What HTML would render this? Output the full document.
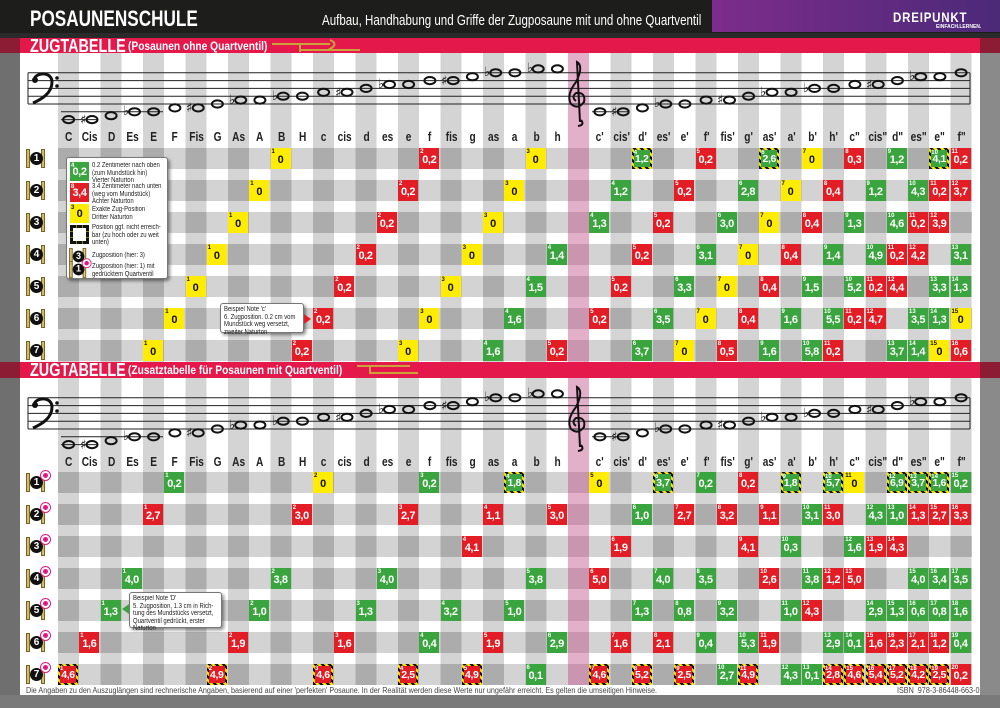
<!DOCTYPE html>
<html><head><meta charset="utf-8">
<style>
*{margin:0;padding:0;box-sizing:border-box}
body{width:1000px;height:708px;position:relative;overflow:hidden;background:#fff;font-family:"Liberation Sans",sans-serif}
.a{position:absolute}
.sx{display:inline-block;transform-origin:left top;white-space:nowrap}
.grid{position:absolute;left:58px;width:914px;background:repeating-linear-gradient(90deg,#d4d4d4 0 21.25px,#fff 21.25px 42.5px)}
.band{position:absolute;left:58px;width:914px;height:21px;background:repeating-linear-gradient(90deg,#acacac 0 21.25px,#d3d3d3 21.25px 42.5px)}
.pink{position:absolute;left:568px;width:21.25px;background:rgba(255,105,180,0.35)}
.c{position:absolute;width:20px;height:21px;color:#fff;font:bold 11px "Liberation Sans",sans-serif;letter-spacing:-0.4px;text-align:center;line-height:24px;white-space:nowrap}
.c i{position:absolute;left:1px;top:1px;font-size:6px;line-height:6px;font-style:normal;letter-spacing:0}
.g{background:#3aa53e}.r{background:#e31d25}.y{background:#ffec00;color:#111}
.h{background:repeating-linear-gradient(45deg,#111 0 2.5px,#ffe600 2.5px 5px)}
.h b{position:absolute;left:2px;top:2px;right:2px;bottom:2px;line-height:19px;font-weight:bold;font-size:10.5px}
.h i{left:0;top:0}
.nm{position:absolute;width:21.25px;text-align:center;font:bold 13px "Liberation Sans",sans-serif;color:#222;transform:scaleX(.78);white-space:nowrap}
.bar{position:absolute;left:20px;width:960px;height:16px;background:#e4184a;color:#fff;font-weight:bold}
.lbl{position:absolute;left:24px;width:26px;height:21px}
.lbl .p1,.lbl .p2{position:absolute;top:1px;width:4px;height:19px;background:linear-gradient(90deg,#a88a3a,#f5e3a0,#b8953f);border:1px solid #7a6220}
.lbl .p1{left:2px}.lbl .p2{left:17px}
.lbl .n{position:absolute;left:6px;top:4px;width:13px;height:13px;border-radius:50%;background:#111;color:#fff;font:bold 10px "Liberation Sans",sans-serif;text-align:center;line-height:13px}
.lbl .q{position:absolute;left:17px;top:-1px;width:9px;height:9px;border-radius:50%;background:#e4187f;border:2px solid #fff;box-shadow:0 0 0 1px #e4187f}
.box{position:absolute;background:#fff;border:1px solid #777;border-radius:3px;box-shadow:2px 2px 3px rgba(0,0,0,.45);font:7px "Liberation Sans",sans-serif;color:#222;line-height:8px}
.lt{position:absolute;left:25px;font-size:7px;line-height:7.5px;white-space:nowrap;transform:scaleX(.85);transform-origin:left top}
</style></head><body>
<div class="a" style="left:0;top:0;width:1000px;height:33px;background:#1d1d1b"></div>
<div class="a" style="left:712px;top:0;width:288px;height:32px;background:linear-gradient(90deg,#7d2c8c,#4b2a78)"></div>
<div class="a" style="left:0;top:33px;width:1000px;height:5px;background:#2a2a2a"></div>
<div class="a" style="left:0;top:38px;width:20px;height:670px;background:#6f6f6f"></div>
<div class="a" style="left:980px;top:38px;width:20px;height:670px;background:#8a8a8a"></div>
<div class="a" style="left:0;top:695px;width:1000px;height:13px;background:#7a7a7a"></div>
<div class="a" style="left:0;top:38px;width:20px;height:15px;background:#8c1c34"></div>
<div class="a" style="left:980px;top:38px;width:20px;height:15px;background:#8c1c34"></div>
<div class="a" style="left:0;top:362px;width:20px;height:16px;background:#8c1c34"></div>
<div class="a" style="left:980px;top:362px;width:20px;height:16px;background:#8c1c34"></div>

<div class="a" style="left:30px;top:6px;color:#fff;font:bold 22px 'Liberation Sans',sans-serif"><span class="sx" style="transform:scaleX(.78)">POSAUNENSCHULE</span></div>
<div class="a" style="left:322px;top:12px;color:#fff;font:15px 'Liberation Sans',sans-serif"><span class="sx" style="transform:scaleX(.77)">Aufbau, Handhabung und Griffe der Zugposaune mit und ohne Quartventil</span></div>
<div class="a" style="left:893px;top:9px;color:#fff;font:bold 14px 'Liberation Sans',sans-serif;letter-spacing:1px"><span class="sx" style="transform:scaleX(.82)">DREIPUNKT</span></div>
<div class="a" style="left:936px;top:24px;color:#fff;font:bold 5px 'Liberation Sans',sans-serif">EINFACH.LERNEN.</div>

<div class="bar" style="top:38px;height:15px"><span class="a" style="left:10px;top:-2px;font-size:18px"><span class="sx" style="transform:scaleX(.8)">ZUGTABELLE</span></span><span class="a" style="left:108px;top:1px;font-size:12px"><span class="sx" style="transform:scaleX(.85)">(Posaunen ohne Quartventil)</span></span></div>
<div class="grid" style="top:53px;height:309px"></div>
<div class="band" style="top:148px"></div><div class="band" style="top:180px"></div><div class="band" style="top:212px"></div><div class="band" style="top:244px"></div><div class="band" style="top:276px"></div><div class="band" style="top:308px"></div><div class="band" style="top:340px"></div>
<div class="pink" style="top:53px;height:309px"></div>

<div class="bar" style="top:362px"><span class="a" style="left:10px;top:-2px;font-size:18px"><span class="sx" style="transform:scaleX(.8)">ZUGTABELLE</span></span><span class="a" style="left:108px;top:1px;font-size:12px"><span class="sx" style="transform:scaleX(.85)">(Zusatztabelle für Posaunen mit Quartventil)</span></span></div>
<div class="grid" style="top:378px;height:307px"></div>
<div class="band" style="top:472px"></div><div class="band" style="top:504px"></div><div class="band" style="top:536px"></div><div class="band" style="top:568px"></div><div class="band" style="top:600px"></div><div class="band" style="top:632px"></div><div class="band" style="top:664px"></div>
<div class="pink" style="top:378px;height:307px"></div>

<svg class="a" style="left:0;top:0" width="1000" height="708">
<g fill="none" stroke="#c9a23a" stroke-width="2">
<path d="M272 44 H330 M300 50 H360 M300 44 V52 M330 40 Q340 44 328 50"/>
<path d="M357 366 H410 M370 373 H418 M370 366 V374"/>
</g>
<g stroke="#222" stroke-width="1">
<path d="M28 72.8H970M28 80.6H970M28 88.4H970M28 96.2H970M28 104H970M28 72.8V104M970 72.8V104"/>
<path d="M28 397.8H970M28 405.6H970M28 413.4H970M28 421.2H970M28 429H970M28 397.8V429M970 397.8V429"/>
<path d="M61 111.8H163M61 119.6H97M592 111.8H629M61 436.8H163M61 444.6H97M592 436.8H629"/>
</g>
<g fill="none" stroke="#111" stroke-width="3">
<path d="M34 80 C35 72 52 71 52 82 C52 93 42 99 33 103"/>
<path d="M34 405 C35 397 52 396 52 407 C52 418 42 424 33 428"/>
<path stroke-width="2" d="M581 120 Q585 125 578 126 M580 122 L577 62 Q584 66 576 82 Q566 95 571 104 Q578 110 584 102 Q586 92 576 93 Q571 97 576 101"/>
<path stroke-width="2" d="M581 445 Q585 450 578 451 M580 447 L577 387 Q584 391 576 407 Q566 420 571 429 Q578 435 584 427 Q586 417 576 418 Q571 422 576 426"/>
</g>
<g fill="#111"><circle cx="35" cy="80" r="3"/><circle cx="57" cy="78" r="1.8"/><circle cx="57" cy="86" r="1.8"/><circle cx="35" cy="405" r="3"/><circle cx="57" cy="403" r="1.8"/><circle cx="57" cy="411" r="1.8"/></g>
<g fill="none" stroke="#111" stroke-width="2">
<g id="n1">
<ellipse cx="68.6" cy="119.6" rx="5.5" ry="3.6"/><ellipse cx="92" cy="119.6" rx="5.5" ry="3.6"/><ellipse cx="111.1" cy="115.7" rx="5.5" ry="3.6"/><ellipse cx="134.5" cy="111.8" rx="5.5" ry="3.6"/><ellipse cx="153.6" cy="111.8" rx="5.5" ry="3.6"/><ellipse cx="174.9" cy="107.9" rx="5.5" ry="3.6"/><ellipse cx="198.2" cy="107.9" rx="5.5" ry="3.6"/><ellipse cx="217.4" cy="104" rx="5.5" ry="3.6"/><ellipse cx="240.7" cy="100.1" rx="5.5" ry="3.6"/><ellipse cx="259.9" cy="100.1" rx="5.5" ry="3.6"/><ellipse cx="283.2" cy="96.2" rx="5.5" ry="3.6"/><ellipse cx="302.4" cy="96.2" rx="5.5" ry="3.6"/><ellipse cx="323.6" cy="92.3" rx="5.5" ry="3.6"/><ellipse cx="347" cy="92.3" rx="5.5" ry="3.6"/><ellipse cx="366.1" cy="88.4" rx="5.5" ry="3.6"/><ellipse cx="389.5" cy="84.5" rx="5.5" ry="3.6"/><ellipse cx="408.6" cy="84.5" rx="5.5" ry="3.6"/><ellipse cx="429.9" cy="80.6" rx="5.5" ry="3.6"/><ellipse cx="453.2" cy="80.6" rx="5.5" ry="3.6"/><ellipse cx="472.4" cy="76.7" rx="5.5" ry="3.6"/><ellipse cx="495.7" cy="72.8" rx="5.5" ry="3.6"/><ellipse cx="514.9" cy="72.8" rx="5.5" ry="3.6"/><ellipse cx="538.2" cy="68.9" rx="5.5" ry="3.6"/><ellipse cx="557.4" cy="68.9" rx="5.5" ry="3.6"/>
<ellipse cx="599.9" cy="111.8" rx="5.5" ry="3.6"/><ellipse cx="623.2" cy="111.8" rx="5.5" ry="3.6"/><ellipse cx="642.4" cy="107.9" rx="5.5" ry="3.6"/><ellipse cx="665.7" cy="104" rx="5.5" ry="3.6"/><ellipse cx="684.9" cy="104" rx="5.5" ry="3.6"/><ellipse cx="706.1" cy="100.1" rx="5.5" ry="3.6"/><ellipse cx="729.5" cy="100.1" rx="5.5" ry="3.6"/><ellipse cx="748.6" cy="96.2" rx="5.5" ry="3.6"/><ellipse cx="772" cy="92.3" rx="5.5" ry="3.6"/><ellipse cx="791.1" cy="92.3" rx="5.5" ry="3.6"/><ellipse cx="814.5" cy="88.4" rx="5.5" ry="3.6"/><ellipse cx="833.6" cy="88.4" rx="5.5" ry="3.6"/><ellipse cx="854.9" cy="84.5" rx="5.5" ry="3.6"/><ellipse cx="878.2" cy="84.5" rx="5.5" ry="3.6"/><ellipse cx="897.4" cy="80.6" rx="5.5" ry="3.6"/><ellipse cx="920.7" cy="76.7" rx="5.5" ry="3.6"/><ellipse cx="939.9" cy="76.7" rx="5.5" ry="3.6"/><ellipse cx="961.1" cy="72.8" rx="5.5" ry="3.6"/>
</g>
<use href="#n1" transform="translate(0,325)"/>
</g>
<g font-family="DejaVu Sans,sans-serif" font-size="13" fill="#111">
<text x="80" y="124">♯</text><text x="123" y="115">♭</text><text x="186" y="112">♯</text><text x="229" y="104">♭</text><text x="272" y="100">♭</text><text x="335" y="97">♯</text><text x="378" y="88">♭</text><text x="441" y="85">♯</text><text x="484" y="76">♭</text><text x="527" y="72">♭</text>
<text x="611" y="116">♯</text><text x="654" y="107">♭</text><text x="717" y="104">♯</text><text x="760" y="96">♭</text><text x="803" y="92">♭</text><text x="866" y="89">♯</text><text x="909" y="80">♭</text>
<text x="80" y="449">♯</text><text x="123" y="440">♭</text><text x="186" y="437">♯</text><text x="229" y="429">♭</text><text x="272" y="425">♭</text><text x="335" y="422">♯</text><text x="378" y="413">♭</text><text x="441" y="410">♯</text><text x="484" y="401">♭</text><text x="527" y="397">♭</text>
<text x="611" y="441">♯</text><text x="654" y="432">♭</text><text x="717" y="429">♯</text><text x="760" y="421">♭</text><text x="803" y="417">♭</text><text x="866" y="414">♯</text><text x="909" y="405">♭</text>
</g>
</svg>

<div class="a" style="left:0;top:129px">
<div class="nm" style="left:58px">C</div><div class="nm" style="left:79.25px">Cis</div><div class="nm" style="left:100.5px">D</div><div class="nm" style="left:121.75px">Es</div><div class="nm" style="left:143px">E</div><div class="nm" style="left:164.25px">F</div><div class="nm" style="left:185.5px">Fis</div><div class="nm" style="left:206.75px">G</div><div class="nm" style="left:228px">As</div><div class="nm" style="left:249.25px">A</div><div class="nm" style="left:270.5px">B</div><div class="nm" style="left:291.75px">H</div><div class="nm" style="left:313px">c</div><div class="nm" style="left:334.25px">cis</div><div class="nm" style="left:355.5px">d</div><div class="nm" style="left:376.75px">es</div><div class="nm" style="left:398px">e</div><div class="nm" style="left:419.25px">f</div><div class="nm" style="left:440.5px">fis</div><div class="nm" style="left:461.75px">g</div><div class="nm" style="left:483px">as</div><div class="nm" style="left:504.25px">a</div><div class="nm" style="left:525.5px">b</div><div class="nm" style="left:546.75px">h</div>
<div class="nm" style="left:589.25px">c'</div><div class="nm" style="left:610.5px">cis'</div><div class="nm" style="left:631.75px">d'</div><div class="nm" style="left:653px">es'</div><div class="nm" style="left:674.25px">e'</div><div class="nm" style="left:695.5px">f'</div><div class="nm" style="left:716.75px">fis'</div><div class="nm" style="left:738px">g'</div><div class="nm" style="left:759.25px">as'</div><div class="nm" style="left:780.5px">a'</div><div class="nm" style="left:801.75px">b'</div><div class="nm" style="left:823px">h'</div><div class="nm" style="left:844.25px">c"</div><div class="nm" style="left:865.5px">cis"</div><div class="nm" style="left:886.75px">d"</div><div class="nm" style="left:908px">es"</div><div class="nm" style="left:929.25px">e"</div><div class="nm" style="left:950.5px">f"</div>
</div>
<div class="a" style="left:0;top:454px">
<div class="nm" style="left:58px">C</div><div class="nm" style="left:79.25px">Cis</div><div class="nm" style="left:100.5px">D</div><div class="nm" style="left:121.75px">Es</div><div class="nm" style="left:143px">E</div><div class="nm" style="left:164.25px">F</div><div class="nm" style="left:185.5px">Fis</div><div class="nm" style="left:206.75px">G</div><div class="nm" style="left:228px">As</div><div class="nm" style="left:249.25px">A</div><div class="nm" style="left:270.5px">B</div><div class="nm" style="left:291.75px">H</div><div class="nm" style="left:313px">c</div><div class="nm" style="left:334.25px">cis</div><div class="nm" style="left:355.5px">d</div><div class="nm" style="left:376.75px">es</div><div class="nm" style="left:398px">e</div><div class="nm" style="left:419.25px">f</div><div class="nm" style="left:440.5px">fis</div><div class="nm" style="left:461.75px">g</div><div class="nm" style="left:483px">as</div><div class="nm" style="left:504.25px">a</div><div class="nm" style="left:525.5px">b</div><div class="nm" style="left:546.75px">h</div>
<div class="nm" style="left:589.25px">c'</div><div class="nm" style="left:610.5px">cis'</div><div class="nm" style="left:631.75px">d'</div><div class="nm" style="left:653px">es'</div><div class="nm" style="left:674.25px">e'</div><div class="nm" style="left:695.5px">f'</div><div class="nm" style="left:716.75px">fis'</div><div class="nm" style="left:738px">g'</div><div class="nm" style="left:759.25px">as'</div><div class="nm" style="left:780.5px">a'</div><div class="nm" style="left:801.75px">b'</div><div class="nm" style="left:823px">h'</div><div class="nm" style="left:844.25px">c"</div><div class="nm" style="left:865.5px">cis"</div><div class="nm" style="left:886.75px">d"</div><div class="nm" style="left:908px">es"</div><div class="nm" style="left:929.25px">e"</div><div class="nm" style="left:950.5px">f"</div>
</div>

<div class="lbl" style="top:148px"><div class="p1"></div><div class="p2"></div><div class="n">1</div></div>
<div class="lbl" style="top:180px"><div class="p1"></div><div class="p2"></div><div class="n">2</div></div>
<div class="lbl" style="top:212px"><div class="p1"></div><div class="p2"></div><div class="n">3</div></div>
<div class="lbl" style="top:244px"><div class="p1"></div><div class="p2"></div><div class="n">4</div></div>
<div class="lbl" style="top:276px"><div class="p1"></div><div class="p2"></div><div class="n">5</div></div>
<div class="lbl" style="top:308px"><div class="p1"></div><div class="p2"></div><div class="n">6</div></div>
<div class="lbl" style="top:340px"><div class="p1"></div><div class="p2"></div><div class="n">7</div></div>
<div class="lbl" style="top:472px"><div class="p1"></div><div class="p2"></div><div class="n">1</div><div class="q"></div></div>
<div class="lbl" style="top:504px"><div class="p1"></div><div class="p2"></div><div class="n">2</div><div class="q"></div></div>
<div class="lbl" style="top:536px"><div class="p1"></div><div class="p2"></div><div class="n">3</div><div class="q"></div></div>
<div class="lbl" style="top:568px"><div class="p1"></div><div class="p2"></div><div class="n">4</div><div class="q"></div></div>
<div class="lbl" style="top:600px"><div class="p1"></div><div class="p2"></div><div class="n">5</div><div class="q"></div></div>
<div class="lbl" style="top:632px"><div class="p1"></div><div class="p2"></div><div class="n">6</div><div class="q"></div></div>
<div class="lbl" style="top:664px"><div class="p1"></div><div class="p2"></div><div class="n">7</div><div class="q"></div></div>

<div class="c y" style="left:270.5px;top:148px"><i>1</i>0</div><div class="c r" style="left:419.25px;top:148px"><i>2</i>0,2</div><div class="c y" style="left:525.5px;top:148px"><i>3</i>0</div><div class="c h" style="left:631.75px;top:148px"><b class="g"><i>4</i>1,2</b></div><div class="c r" style="left:695.5px;top:148px"><i>5</i>0,2</div><div class="c h" style="left:759.25px;top:148px"><b class="g"><i>6</i>2,6</b></div><div class="c y" style="left:801.75px;top:148px"><i>7</i>0</div><div class="c r" style="left:844.25px;top:148px"><i>8</i>0,3</div><div class="c g" style="left:886.75px;top:148px"><i>9</i>1,2</div><div class="c h" style="left:929.25px;top:148px"><b class="g"><i>10</i>4,1</b></div><div class="c r" style="left:950.5px;top:148px"><i>11</i>0,2</div>

<div class="c y" style="left:249.25px;top:180px"><i>1</i>0</div><div class="c r" style="left:398px;top:180px"><i>2</i>0,2</div><div class="c y" style="left:504.25px;top:180px"><i>3</i>0</div><div class="c g" style="left:610.5px;top:180px"><i>4</i>1,2</div><div class="c r" style="left:674.25px;top:180px"><i>5</i>0,2</div><div class="c g" style="left:738px;top:180px"><i>6</i>2,8</div><div class="c y" style="left:780.5px;top:180px"><i>7</i>0</div><div class="c r" style="left:823px;top:180px"><i>8</i>0,4</div><div class="c g" style="left:865.5px;top:180px"><i>9</i>1,2</div><div class="c g" style="left:908px;top:180px"><i>10</i>4,3</div><div class="c r" style="left:929.25px;top:180px"><i>11</i>0,2</div><div class="c r" style="left:950.5px;top:180px"><i>12</i>3,7</div>

<div class="c y" style="left:228px;top:212px"><i>1</i>0</div><div class="c r" style="left:376.75px;top:212px"><i>2</i>0,2</div><div class="c y" style="left:483px;top:212px"><i>3</i>0</div><div class="c g" style="left:589.25px;top:212px"><i>4</i>1,3</div><div class="c r" style="left:653px;top:212px"><i>5</i>0,2</div><div class="c g" style="left:716.75px;top:212px"><i>6</i>3,0</div><div class="c y" style="left:759.25px;top:212px"><i>7</i>0</div><div class="c r" style="left:801.75px;top:212px"><i>8</i>0,4</div><div class="c g" style="left:844.25px;top:212px"><i>9</i>1,3</div><div class="c g" style="left:886.75px;top:212px"><i>10</i>4,6</div><div class="c r" style="left:908px;top:212px"><i>11</i>0,2</div><div class="c r" style="left:929.25px;top:212px"><i>12</i>3,9</div>

<div class="c y" style="left:206.75px;top:244px"><i>1</i>0</div><div class="c r" style="left:355.5px;top:244px"><i>2</i>0,2</div><div class="c y" style="left:461.75px;top:244px"><i>3</i>0</div><div class="c g" style="left:546.75px;top:244px"><i>4</i>1,4</div><div class="c r" style="left:631.75px;top:244px"><i>5</i>0,2</div><div class="c g" style="left:695.5px;top:244px"><i>6</i>3,1</div><div class="c y" style="left:738px;top:244px"><i>7</i>0</div><div class="c r" style="left:780.5px;top:244px"><i>8</i>0,4</div><div class="c g" style="left:823px;top:244px"><i>9</i>1,4</div><div class="c g" style="left:865.5px;top:244px"><i>10</i>4,9</div><div class="c r" style="left:886.75px;top:244px"><i>11</i>0,2</div><div class="c r" style="left:908px;top:244px"><i>12</i>4,2</div><div class="c g" style="left:950.5px;top:244px"><i>13</i>3,1</div>

<div class="c y" style="left:185.5px;top:276px"><i>1</i>0</div><div class="c r" style="left:334.25px;top:276px"><i>2</i>0,2</div><div class="c y" style="left:440.5px;top:276px"><i>3</i>0</div><div class="c g" style="left:525.5px;top:276px"><i>4</i>1,5</div><div class="c r" style="left:610.5px;top:276px"><i>5</i>0,2</div><div class="c g" style="left:674.25px;top:276px"><i>6</i>3,3</div><div class="c y" style="left:716.75px;top:276px"><i>7</i>0</div><div class="c r" style="left:759.25px;top:276px"><i>8</i>0,4</div><div class="c g" style="left:801.75px;top:276px"><i>9</i>1,5</div><div class="c g" style="left:844.25px;top:276px"><i>10</i>5,2</div><div class="c r" style="left:865.5px;top:276px"><i>11</i>0,2</div><div class="c r" style="left:886.75px;top:276px"><i>12</i>4,4</div><div class="c g" style="left:929.25px;top:276px"><i>13</i>3,3</div><div class="c g" style="left:950.5px;top:276px"><i>14</i>1,3</div>

<div class="c y" style="left:164.25px;top:308px"><i>1</i>0</div><div class="c r" style="left:313px;top:308px"><i>2</i>0,2</div><div class="c y" style="left:419.25px;top:308px"><i>3</i>0</div><div class="c g" style="left:504.25px;top:308px"><i>4</i>1,6</div><div class="c r" style="left:589.25px;top:308px"><i>5</i>0,2</div><div class="c g" style="left:653px;top:308px"><i>6</i>3,5</div><div class="c y" style="left:695.5px;top:308px"><i>7</i>0</div><div class="c r" style="left:738px;top:308px"><i>8</i>0,4</div><div class="c g" style="left:780.5px;top:308px"><i>9</i>1,6</div><div class="c g" style="left:823px;top:308px"><i>10</i>5,5</div><div class="c r" style="left:844.25px;top:308px"><i>11</i>0,2</div><div class="c r" style="left:865.5px;top:308px"><i>12</i>4,7</div><div class="c g" style="left:908px;top:308px"><i>13</i>3,5</div><div class="c g" style="left:929.25px;top:308px"><i>14</i>1,3</div><div class="c y" style="left:950.5px;top:308px"><i>15</i>0</div>

<div class="c y" style="left:143px;top:340px"><i>1</i>0</div><div class="c r" style="left:291.75px;top:340px"><i>2</i>0,2</div><div class="c y" style="left:398px;top:340px"><i>3</i>0</div><div class="c g" style="left:483px;top:340px"><i>4</i>1,6</div><div class="c r" style="left:546.75px;top:340px"><i>5</i>0,2</div><div class="c g" style="left:631.75px;top:340px"><i>6</i>3,7</div><div class="c y" style="left:674.25px;top:340px"><i>7</i>0</div><div class="c r" style="left:716.75px;top:340px"><i>8</i>0,5</div><div class="c g" style="left:759.25px;top:340px"><i>9</i>1,6</div><div class="c g" style="left:801.75px;top:340px"><i>10</i>5,8</div><div class="c r" style="left:823px;top:340px"><i>11</i>0,2</div><div class="c g" style="left:886.75px;top:340px"><i>13</i>3,7</div><div class="c g" style="left:908px;top:340px"><i>14</i>1,4</div><div class="c y" style="left:929.25px;top:340px"><i>15</i>0</div><div class="c r" style="left:950.5px;top:340px"><i>16</i>0,6</div>

<div class="c g" style="left:164.25px;top:472px"><i>1</i>0,2</div><div class="c y" style="left:313px;top:472px"><i>2</i>0</div><div class="c g" style="left:419.25px;top:472px"><i>3</i>0,2</div><div class="c h" style="left:504.25px;top:472px"><b class="g"><i>4</i>1,8</b></div><div class="c y" style="left:589.25px;top:472px"><i>5</i>0</div><div class="c h" style="left:653px;top:472px"><b class="g"><i>6</i>3,7</b></div><div class="c g" style="left:695.5px;top:472px"><i>7</i>0,2</div><div class="c r" style="left:738px;top:472px"><i>8</i>0,2</div><div class="c h" style="left:780.5px;top:472px"><b class="g"><i>9</i>1,8</b></div><div class="c h" style="left:823px;top:472px"><b class="g"><i>10</i>5,7</b></div><div class="c y" style="left:844.25px;top:472px"><i>11</i>0</div><div class="c h" style="left:886.75px;top:472px"><b class="g"><i>12</i>6,9</b></div><div class="c h" style="left:908px;top:472px"><b class="g"><i>13</i>3,7</b></div><div class="c h" style="left:929.25px;top:472px"><b class="g"><i>14</i>1,6</b></div><div class="c g" style="left:950.5px;top:472px"><i>15</i>0,2</div>

<div class="c r" style="left:143px;top:504px"><i>1</i>2,7</div><div class="c r" style="left:291.75px;top:504px"><i>2</i>3,0</div><div class="c r" style="left:398px;top:504px"><i>3</i>2,7</div><div class="c r" style="left:483px;top:504px"><i>4</i>1,1</div><div class="c r" style="left:546.75px;top:504px"><i>5</i>3,0</div><div class="c g" style="left:631.75px;top:504px"><i>6</i>1,0</div><div class="c r" style="left:674.25px;top:504px"><i>7</i>2,7</div><div class="c r" style="left:716.75px;top:504px"><i>8</i>3,2</div><div class="c r" style="left:759.25px;top:504px"><i>9</i>1,1</div><div class="c g" style="left:801.75px;top:504px"><i>10</i>3,1</div><div class="c r" style="left:823px;top:504px"><i>11</i>3,0</div><div class="c g" style="left:865.5px;top:504px"><i>12</i>4,3</div><div class="c g" style="left:886.75px;top:504px"><i>13</i>1,0</div><div class="c r" style="left:908px;top:504px"><i>14</i>1,3</div><div class="c r" style="left:929.25px;top:504px"><i>15</i>2,7</div><div class="c r" style="left:950.5px;top:504px"><i>16</i>3,3</div>

<div class="c r" style="left:461.75px;top:536px"><i>4</i>4,1</div><div class="c r" style="left:610.5px;top:536px"><i>6</i>1,9</div><div class="c r" style="left:738px;top:536px"><i>9</i>4,1</div><div class="c g" style="left:780.5px;top:536px"><i>10</i>0,3</div><div class="c g" style="left:844.25px;top:536px"><i>12</i>1,6</div><div class="c r" style="left:865.5px;top:536px"><i>13</i>1,9</div><div class="c r" style="left:886.75px;top:536px"><i>14</i>4,3</div>

<div class="c g" style="left:121.75px;top:568px"><i>1</i>4,0</div><div class="c g" style="left:270.5px;top:568px"><i>2</i>3,8</div><div class="c g" style="left:376.75px;top:568px"><i>3</i>4,0</div><div class="c g" style="left:525.5px;top:568px"><i>5</i>3,8</div><div class="c r" style="left:589.25px;top:568px"><i>6</i>5,0</div><div class="c g" style="left:653px;top:568px"><i>7</i>4,0</div><div class="c g" style="left:695.5px;top:568px"><i>8</i>3,5</div><div class="c r" style="left:759.25px;top:568px"><i>10</i>2,6</div><div class="c g" style="left:801.75px;top:568px"><i>11</i>3,8</div><div class="c r" style="left:823px;top:568px"><i>12</i>1,2</div><div class="c r" style="left:844.25px;top:568px"><i>13</i>5,0</div><div class="c g" style="left:908px;top:568px"><i>15</i>4,0</div><div class="c g" style="left:929.25px;top:568px"><i>16</i>3,4</div><div class="c g" style="left:950.5px;top:568px"><i>17</i>3,5</div>

<div class="c g" style="left:100.5px;top:600px"><i>1</i>1,3</div><div class="c g" style="left:249.25px;top:600px"><i>2</i>1,0</div><div class="c g" style="left:355.5px;top:600px"><i>3</i>1,3</div><div class="c g" style="left:440.5px;top:600px"><i>4</i>3,2</div><div class="c g" style="left:504.25px;top:600px"><i>5</i>1,0</div><div class="c g" style="left:631.75px;top:600px"><i>7</i>1,3</div><div class="c g" style="left:674.25px;top:600px"><i>8</i>0,8</div><div class="c g" style="left:716.75px;top:600px"><i>9</i>3,2</div><div class="c g" style="left:780.5px;top:600px"><i>11</i>1,0</div><div class="c r" style="left:801.75px;top:600px"><i>12</i>4,3</div><div class="c g" style="left:865.5px;top:600px"><i>14</i>2,9</div><div class="c g" style="left:886.75px;top:600px"><i>15</i>1,3</div><div class="c g" style="left:908px;top:600px"><i>16</i>0,6</div><div class="c g" style="left:929.25px;top:600px"><i>17</i>0,8</div><div class="c g" style="left:950.5px;top:600px"><i>18</i>1,6</div>

<div class="c r" style="left:79.25px;top:632px"><i>1</i>1,6</div><div class="c r" style="left:228px;top:632px"><i>2</i>1,9</div><div class="c r" style="left:334.25px;top:632px"><i>3</i>1,6</div><div class="c g" style="left:419.25px;top:632px"><i>4</i>0,4</div><div class="c r" style="left:483px;top:632px"><i>5</i>1,9</div><div class="c g" style="left:546.75px;top:632px"><i>6</i>2,9</div><div class="c r" style="left:610.5px;top:632px"><i>7</i>1,6</div><div class="c r" style="left:653px;top:632px"><i>8</i>2,1</div><div class="c g" style="left:695.5px;top:632px"><i>9</i>0,4</div><div class="c g" style="left:738px;top:632px"><i>10</i>5,3</div><div class="c r" style="left:759.25px;top:632px"><i>11</i>1,9</div><div class="c g" style="left:823px;top:632px"><i>13</i>2,9</div><div class="c g" style="left:844.25px;top:632px"><i>14</i>0,1</div><div class="c r" style="left:865.5px;top:632px"><i>15</i>1,6</div><div class="c r" style="left:886.75px;top:632px"><i>16</i>2,3</div><div class="c r" style="left:908px;top:632px"><i>17</i>2,1</div><div class="c r" style="left:929.25px;top:632px"><i>18</i>1,2</div><div class="c g" style="left:950.5px;top:632px"><i>19</i>0,4</div>

<div class="c h" style="left:58px;top:664px"><b class="r"><i>1</i>4,6</b></div><div class="c h" style="left:206.75px;top:664px"><b class="r"><i>2</i>4,9</b></div><div class="c h" style="left:313px;top:664px"><b class="r"><i>3</i>4,6</b></div><div class="c h" style="left:398px;top:664px"><b class="r"><i>4</i>2,5</b></div><div class="c h" style="left:461.75px;top:664px"><b class="r"><i>5</i>4,9</b></div><div class="c g" style="left:525.5px;top:664px"><i>6</i>0,1</div><div class="c h" style="left:589.25px;top:664px"><b class="r"><i>7</i>4,6</b></div><div class="c h" style="left:631.75px;top:664px"><b class="r"><i>8</i>5,2</b></div><div class="c h" style="left:674.25px;top:664px"><b class="r"><i>9</i>2,5</b></div><div class="c g" style="left:716.75px;top:664px"><i>10</i>2,7</div><div class="c h" style="left:738px;top:664px"><b class="r"><i>11</i>4,9</b></div><div class="c g" style="left:780.5px;top:664px"><i>12</i>4,3</div><div class="c g" style="left:801.75px;top:664px"><i>13</i>0,1</div><div class="c h" style="left:823px;top:664px"><b class="r"><i>14</i>2,8</b></div><div class="c h" style="left:844.25px;top:664px"><b class="r"><i>15</i>4,6</b></div><div class="c h" style="left:865.5px;top:664px"><b class="r"><i>16</i>5,4</b></div><div class="c h" style="left:886.75px;top:664px"><b class="r"><i>17</i>5,2</b></div><div class="c h" style="left:908px;top:664px"><b class="r"><i>18</i>4,2</b></div><div class="c h" style="left:929.25px;top:664px"><b class="r"><i>19</i>2,5</b></div><div class="c r" style="left:950.5px;top:664px"><i>20</i>0,2</div>

<div class="box" style="left:66px;top:157px;width:102px;height:122px">
<div class="c g" style="left:3px;top:4px;width:19px;height:19px;line-height:20px"><i>4</i>0,2</div>
<div class="lt" style="top:4px">0.2 Zentimeter nach oben<br>(zum Mundstück hin)<br>Vierter Naturton</div>
<div class="c r" style="left:3px;top:25px;width:19px;height:19px;line-height:20px"><i>8</i>3,4</div>
<div class="lt" style="top:25px">3.4 Zentimeter nach unten<br>(weg vom Mundstück)<br>Achter Naturton</div>
<div class="c y" style="left:3px;top:46px;width:19px;height:19px;line-height:20px"><i>3</i>0</div>
<div class="lt" style="top:48px">Exakte Zug-Position<br>Dritter Naturton</div>
<div class="a" style="left:3px;top:67px;width:19px;height:19px;border:3px dashed #111;background:#ffe600"><div style="position:absolute;inset:0;background:#fff"></div></div>
<div class="lt" style="top:66px">Position ggf. nicht erreich-<br>bar (zu hoch oder zu weit<br>unten)</div>
<div class="lbl" style="left:-1px;top:88px;transform:scale(.9)"><div class="p1"></div><div class="p2"></div><div class="n">3</div></div>
<div class="lt" style="top:94px">Zugposition (hier: 3)</div>
<div class="lbl" style="left:-1px;top:101px;transform:scale(.9)"><div class="p1"></div><div class="p2"></div><div class="n">1</div><div class="q"></div></div>
<div class="lt" style="top:105px">Zugposition (hier: 1) mit<br>gedrücktem Quartventil</div>
</div>
<div class="box" style="left:220px;top:303px;width:84px;height:30px">
<div class="lt" style="left:3px;top:2px">Beispiel Note 'c'<br>6. Zugposition. 0.2 cm vom<br>Mundstück weg versetzt,<br>zweiter Naturton</div></div>
<div class="a" style="left:304px;top:314px;width:0;height:0;border-left:7px solid #e31d25;border-top:5px solid transparent;border-bottom:5px solid transparent"></div>
<div class="box" style="left:129px;top:592px;width:93px;height:36px">
<div class="lt" style="left:3px;top:2px">Beispiel Note 'D'<br>5. Zugposition, 1.3 cm in Rich-<br>tung des Mundstücks versetzt,<br>Quartventil gedrückt, erster<br>Naturton</div></div>
<div class="a" style="left:122px;top:604px;width:0;height:0;border-right:7px solid #3aa53e;border-top:5px solid transparent;border-bottom:5px solid transparent"></div>

<div class="a" style="left:26px;top:686px;font:8px 'Liberation Sans',sans-serif;color:#444"><span class="sx" style="transform:scaleX(.9)">Die Angaben zu den Auszuglängen sind rechnerische Angaben, basierend auf einer 'perfekten' Posaune. In der Realität werden diese Werte nur ungefähr erreicht. Es gelten die umseitigen Hinweise.</span></div>
<div class="a" style="left:897px;top:686px;font:8px 'Liberation Sans',sans-serif;color:#444"><span class="sx" style="transform:scaleX(.9)">ISBN&nbsp; 978-3-86448-663-0</span></div>
</body></html>
